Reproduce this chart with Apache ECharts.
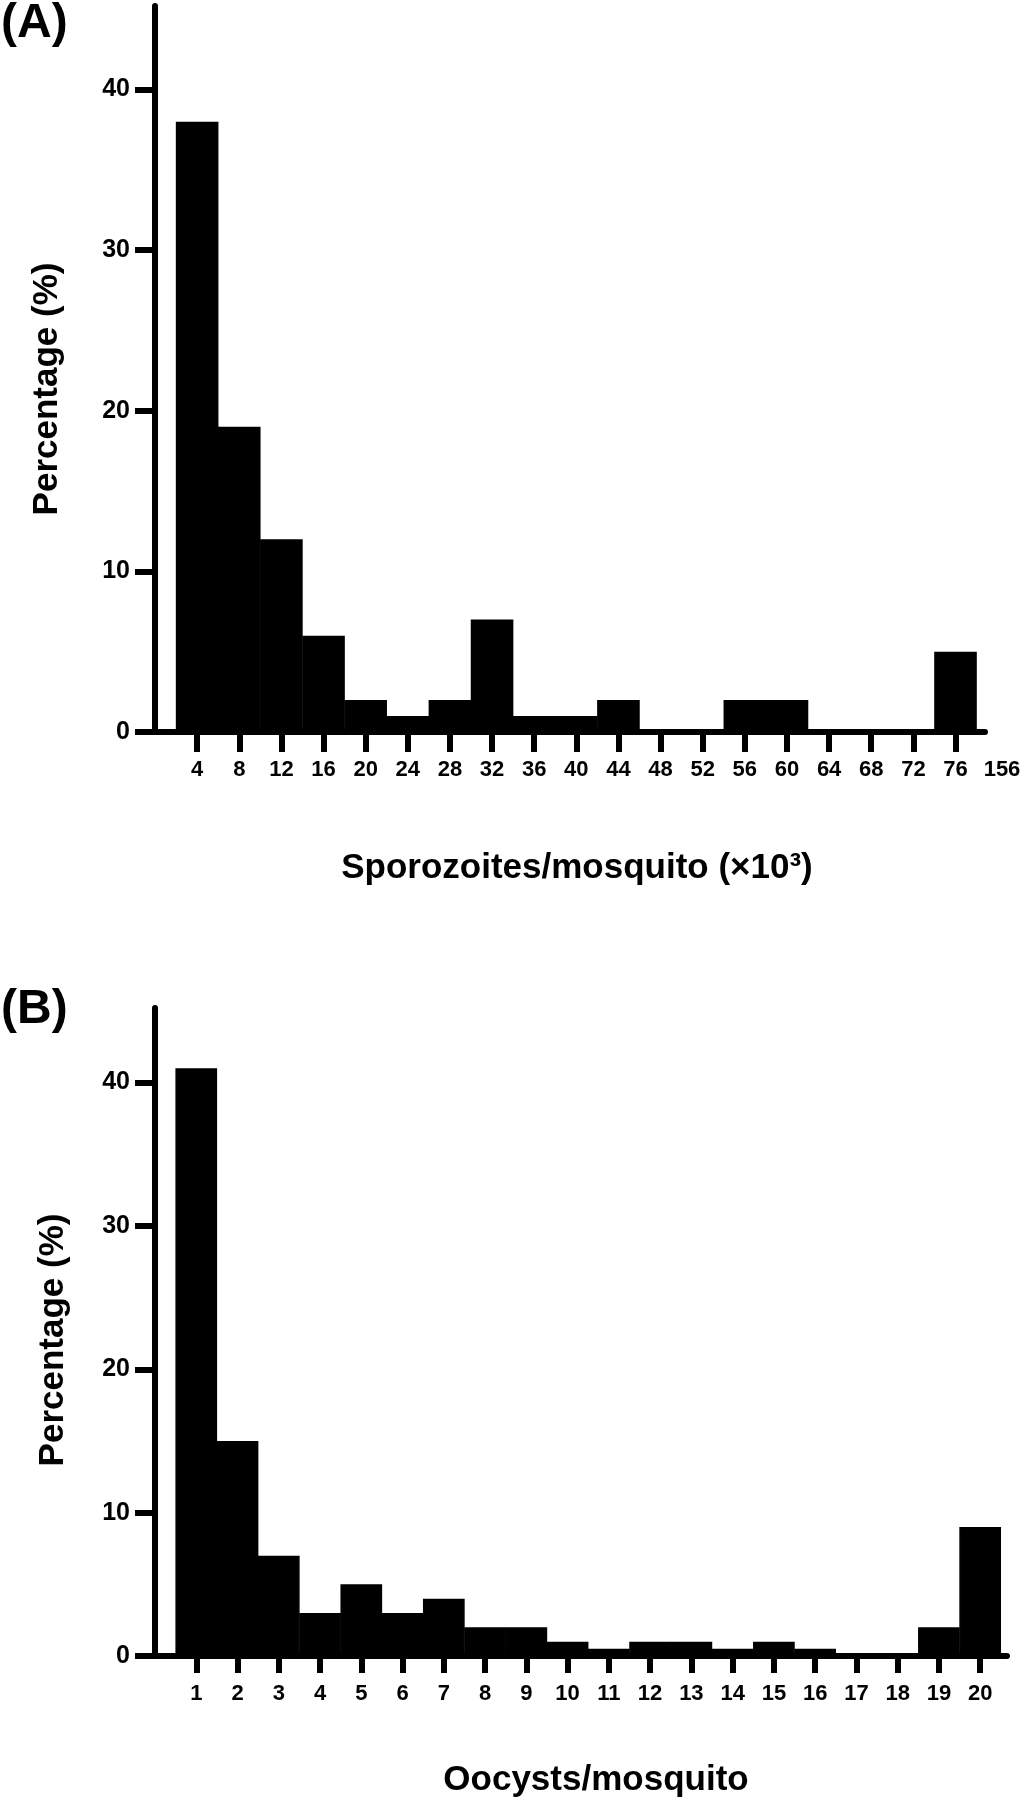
<!DOCTYPE html>
<html>
<head>
<meta charset="utf-8">
<script src="https://cdn.jsdelivr.net/npm/echarts@6/dist/echarts.min.js"></script>
<style>
    html, body { margin: 0; padding: 0; background: #fff; }
    #charts { width: 1030px; height: 1800px; }
</style>
</head>
<body>
<div id="charts"></div>
<script>
// (A) sporozoites per mosquito, bins of 4 x10^3
var sporoLabels = ['4', '8', '12', '16', '20', '24', '28', '32', '36', '40',
    '44', '48', '52', '56', '60', '64', '68', '72', '76'];
var sporoEndLabel = '156';
var sporoPct = [38, 19, 12, 6, 2, 1, 2, 7, 1, 1, 2, 0, 0, 2, 2, 0, 0, 0, 5];

// (B) oocysts per mosquito
var oocystLabels = ['1', '2', '3', '4', '5', '6', '7', '8', '9', '10',
    '11', '12', '13', '14', '15', '16', '17', '18', '19', '20'];
var oocystPct = [41, 15, 7, 3, 5, 3, 4, 2, 2, 1, 0.5, 1, 1, 0.5, 1, 0.5, 0, 0, 2, 9];

var yTicks = [0, 10, 20, 30, 40];

var FONT = 'Liberation Sans, Arial, sans-serif';
var xMaxA = 19.7;   // axis runs a bit past the last bin
var xMaxB = 20.65;

function idx(arr) { return arr.map(function (v, i) { return i + 1; }); }

function yAxisOpt(grid, padRight, gap) {
    return {
        type: 'value', gridIndex: grid, min: 0, max: 45.2,
        name: 'Percentage (%)', nameLocation: 'middle', nameGap: gap,
        nameMoveOverlap: false,
        nameTextStyle: { fontFamily: FONT, fontWeight: 'bold', fontSize: 35, color: '#000', padding: [0, padRight, 0, 0] },
        splitLine: { show: false },
        axisLine: { show: true, lineStyle: { color: '#000', width: 6 } },
        axisTick: { show: true, length: 20, customValues: yTicks, lineStyle: { color: '#000', width: 6 } },
        axisLabel: { customValues: yTicks, margin: 25, fontFamily: FONT, fontWeight: 'bold', fontSize: 25, color: '#000' }
    };
}

var chartDom = document.getElementById('charts');
var myChart = echarts.init(chartDom);

var option = {
    backgroundColor: '#fff',
    animation: false,
    title: [
        { text: '(A)', left: 1, top: 0, padding: 0, textStyle: { fontFamily: FONT, fontWeight: 'bold', fontSize: 48, color: '#000' } },
        { text: '(B)', left: 1, top: 986, padding: 0, textStyle: { fontFamily: FONT, fontWeight: 'bold', fontSize: 48, color: '#000' } }
    ],
    grid: [
        { left: 155, right: 45, top: 6, height: 726, outerBoundsMode: 'none' },
        { left: 155, right: 23, top: 1008, height: 648, outerBoundsMode: 'none' }
    ],
    xAxis: [
        {
            type: 'value', gridIndex: 0, min: 0, max: xMaxA,
            name: 'Sporozoites/mosquito (×10³)', nameLocation: 'middle', nameGap: 119,
            nameTextStyle: { fontFamily: FONT, fontWeight: 'bold', fontSize: 35, color: '#000', padding: [0, 0, 0, 14] },
            splitLine: { show: false },
            axisLine: { onZero: false, lineStyle: { color: '#000', width: 6 } },
            axisTick: { length: 20, customValues: idx(sporoLabels), lineStyle: { color: '#000', width: 6 } },
            axisLabel: {
                customValues: idx(sporoLabels).concat([xMaxA]),
                margin: 27, fontFamily: FONT, fontWeight: 'bold', fontSize: 22, color: '#000',
                formatter: function (v) {
                    if (v === xMaxA) return '{end|' + sporoEndLabel + '}';
                    return sporoLabels[Math.round(v) - 1];
                },
                rich: { end: { padding: [0, 0, 0, 34], fontFamily: FONT, fontWeight: 'bold', fontSize: 22, color: '#000' } }
            }
        },
        {
            type: 'value', gridIndex: 1, min: 0, max: xMaxB,
            name: 'Oocysts/mosquito', nameLocation: 'middle', nameGap: 107,
            nameTextStyle: { fontFamily: FONT, fontWeight: 'bold', fontSize: 35, color: '#000', padding: [0, 0, 0, 30] },
            splitLine: { show: false },
            axisLine: { onZero: false, lineStyle: { color: '#000', width: 6 } },
            axisTick: { length: 17, customValues: idx(oocystLabels), lineStyle: { color: '#000', width: 6 } },
            axisLabel: {
                customValues: idx(oocystLabels),
                margin: 27, fontFamily: FONT, fontWeight: 'bold', fontSize: 22, color: '#000',
                formatter: function (v) { return oocystLabels[Math.round(v) - 1]; }
            }
        }
    ],
    yAxis: [yAxisOpt(0, 40, 90), yAxisOpt(1, 16, 84)],
    series: [
        {
            type: 'bar', xAxisIndex: 0, yAxisIndex: 0,
            barWidth: 42.6,
            itemStyle: { color: '#000', borderColor: '#000', borderWidth: 1.5 },
            data: sporoPct.map(function (v, i) { return [i + 1, v]; })
        },
        {
            type: 'bar', xAxisIndex: 1, yAxisIndex: 1,
            barWidth: 41.7,
            itemStyle: { color: '#000', borderColor: '#000', borderWidth: 1.5 },
            data: oocystPct.map(function (v, i) { return [i + 1, v]; })
        }
    ]
};

option && myChart.setOption(option);
</script>
</body>
</html>
